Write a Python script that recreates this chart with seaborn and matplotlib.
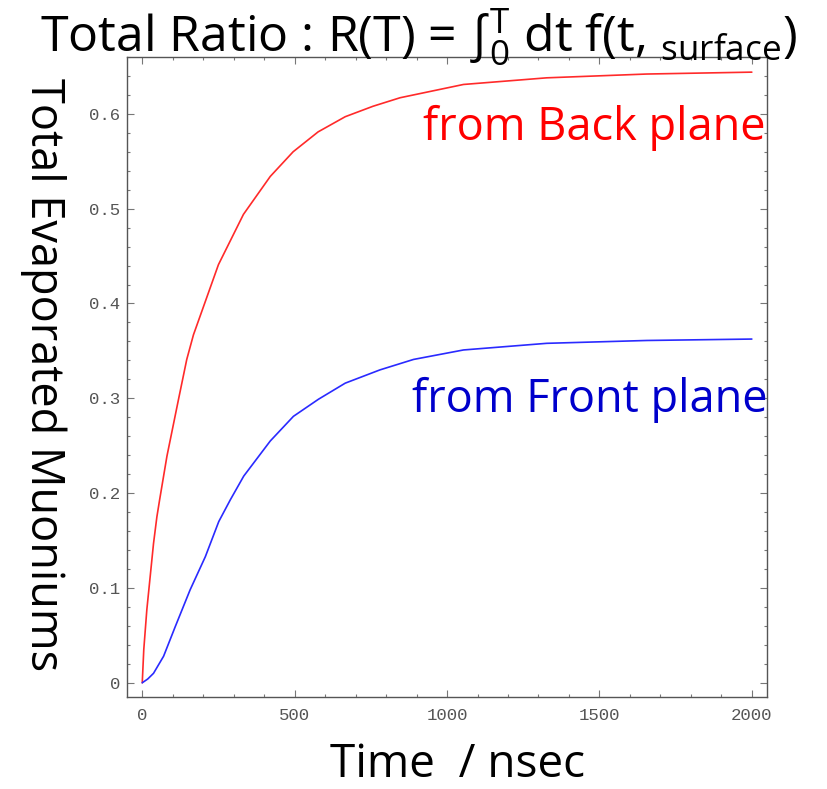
import numpy as np
import pandas as pd
import seaborn as sns
import matplotlib.pyplot as plt
from matplotlib.ticker import MultipleLocator

# values
t_back = [0, 5, 15, 26, 37, 48, 57, 81, 119, 146, 168, 250, 332, 420, 495, 577, 666, 757, 846, 1054, 1327, 1655, 2000]
r_back = [0, 0.035, 0.077, 0.112, 0.147, 0.175, 0.193, 0.239, 0.299, 0.341, 0.367, 0.441, 0.494, 0.534, 0.560, 0.581,
          0.597, 0.608, 0.617, 0.631, 0.638, 0.642, 0.644]

t_front = [0, 18, 37, 70, 108, 157, 207, 251, 289, 333, 420, 496, 578, 666, 780, 890, 1054, 1327, 1655, 2000]
r_front = [0, 0.004, 0.010, 0.028, 0.059, 0.098, 0.133, 0.170, 0.193, 0.218, 0.255, 0.281, 0.299, 0.316, 0.330,
           0.341, 0.351, 0.358, 0.361, 0.3625]

x_ticks = [0, 500, 1000, 1500, 2000]
y_ticks = [0, 0.1, 0.2, 0.3, 0.4, 0.5, 0.6]
y_ticklabels = ["0", "0.1", "0.2", "0.3", "0.4", "0.5", "0.6"]

sns.set_style("ticks")
plt.rcParams['font.family'] = ['Open Sans', 'DejaVu Sans']
plt.rcParams['text.color'] = 'black'
plt.rcParams['mathtext.fontset'] = 'custom'
plt.rcParams['mathtext.rm'] = 'Open Sans'
plt.rcParams['mathtext.fallback'] = 'stixsans'

df_back = pd.DataFrame({'t': t_back, 'r': r_back})
df_front = pd.DataFrame({'t': t_front, 'r': r_front})

fig = plt.figure(figsize=(8.28, 7.89), dpi=100)
ax = fig.add_axes([0.1534, 0.1166, 0.773, 0.8112])

sns.lineplot(data=df_back, x='t', y='r', ax=ax, color='#ff2a2a', lw=1.2, sort=False)
sns.lineplot(data=df_front, x='t', y='r', ax=ax, color='#2a2aff', lw=1.2, sort=False)

ax.set_xlim(-50, 2050)
ax.set_ylim(-0.015, 0.66)
ax.set_xticks(x_ticks)
ax.set_yticks(y_ticks)
ax.set_yticklabels(y_ticklabels)
ax.xaxis.set_minor_locator(MultipleLocator(100))
ax.yaxis.set_minor_locator(MultipleLocator(0.02))
ax.tick_params(which='both', direction='in', top=True, right=True, colors='#777777',
               labelcolor='#555555', labelsize=12.5, width=0.8)
ax.tick_params(which='major', length=5)
ax.tick_params(which='minor', length=2.5)
ax.tick_params(axis='x', pad=8)
ax.tick_params(axis='y', pad=5)
for lab in ax.get_xticklabels() + ax.get_yticklabels():
    lab.set_family('Liberation Mono')
for s in ax.spines.values():
    s.set_color('#555555')
    s.set_linewidth(1.0)

ax.set_xlabel('')
ax.set_ylabel('')

ax.text(0.997, 0.889, 'from Back plane', transform=ax.transAxes, ha='right', va='center',
        color='#ff0000', fontsize=32.5)
ax.text(1.0, 0.464, 'from Front plane', transform=ax.transAxes, ha='right', va='center',
        color='#0000cc', fontsize=32.5)

fig.text(0.505, 0.934, r'Total Ratio : R(T) = ∫$_{0}^{\mathrm{T}}$ dt f(t, $_{\mathrm{surface}}$)',
         ha='center', va='baseline', fontsize=36)
fig.text(0.553, 0.03, 'Time  / nsec', ha='center', va='center', fontsize=33)
fig.text(0.052, 0.525, 'Total Evaporated Muoniums', ha='center', va='center', rotation=-90, fontsize=32.5)

plt.savefig('out.png', dpi=100)
